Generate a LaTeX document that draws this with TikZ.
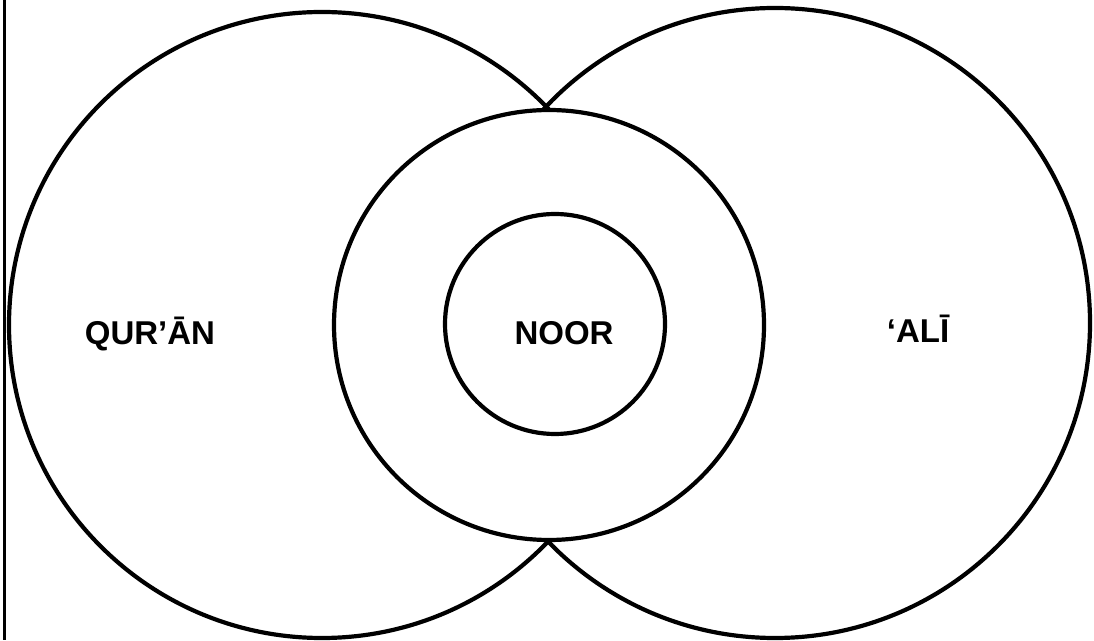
\documentclass[tikz,border=0pt]{standalone}
\usepackage{fontspec}
\setmainfont{Liberation Sans}
\usepackage{tikz}
\tikzset{
  diagram/.style={x=1pt, y=1pt, line width=4.2pt},
  ring/.style={circle, draw, inner sep=0pt},
  wlabel/.style={font=\fontsize{33}{38}\selectfont\bfseries, anchor=base, inner sep=0pt},
}

\begin{document}
\begin{tikzpicture}[diagram]
  \useasboundingbox (0,0) rectangle (1094,640);
  % margin rule on the left
  \coordinate (rtop) at (4,640);
  \coordinate (rbot) at (4,0);
  \draw[line width=3pt] (rtop) -- (rbot);
  % the two large circles
  \node[ring, minimum size=626pt] (qurancirc) at (322,315) {};
  \node[ring, minimum size=630pt] (alicirc) at (775,317) {};
  % the ring in the middle hides them where they overlap
  \node[ring, fill=white, minimum size=430pt] (noorring) at (549,315) {};
  \node[ring, minimum size=220pt] (noorcore) at (555,316) {};
  % words
  \node[wlabel] (quran) at (150,295) {QUR’ĀN};
  \node[wlabel] (noor) at (564,295) {NOOR};
  \node[wlabel] (ali) at (918,297) {‘ALĪ};
\end{tikzpicture}
\end{document}
